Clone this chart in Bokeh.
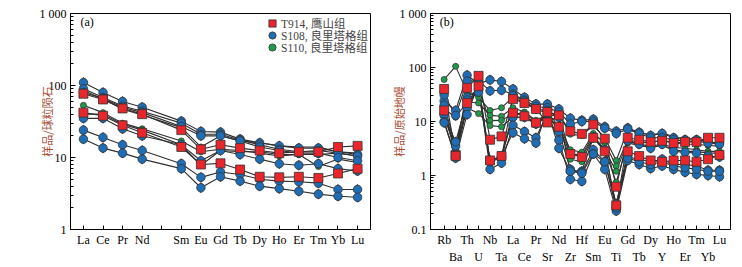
from bokeh.plotting import figure
from bokeh.layouts import row
from bokeh.models import Range1d, FixedTicker, LinearAxis, Legend, LegendItem, Label, ColumnDataSource
from bokeh.embed import file_html
from bokeh.resources import INLINE

# ---------------- data ----------------
ree_elements = ["La", "Ce", "Pr", "Nd", "", "Sm", "Eu", "Gd", "Tb", "Dy", "Ho", "Er", "Tm", "Yb", "Lu"]

ree_T914 = [
    [77, 64, 48, 40, 24, 13, 15, 13.5, 12.5, 11.5, 12, 12, 14, 14.5],
    [42, 38, 28, 22, 14, 8, 8.3, 6.8, 5.4, 5.3, 5.4, 5.2, 6, 7],
]
ree_S108 = [
    [110, 80, 60, 50, 32, 23, 22.5, 18, 16, 14.5, 13.5, 13.5, 12, 11],
    [90, 68, 52, 44, 30, 21, 21, 17.5, 15, 13, 12, 12.5, 11.5, 10.5],
    [80, 66, 50, 42, 27, 20, 20, 17, 14, 12.5, 11.5, 11.5, 10, 9],
    [35, 35, 25, 20, 15, 9, 12.5, 11, 9.5, 8.2, 7.8, 8.2, 7, 6.5],
    [24, 19, 15, 12.5, 8.2, 5.3, 6.3, 5.8, 5, 4.7, 4.6, 4.4, 3.6, 3.6],
    [18, 13.5, 11.5, 9.5, 7, 3.8, 5.4, 4.7, 4, 3.7, 3.4, 3.1, 2.9, 2.8],
]
ree_S110 = [
    [85, 65, 47, 39, 26, 14, 20, 17, 16, 14.5, 14, 14, 12, 11.5],
    [53, 42, 30, 25, 17, 12, 13, 12.5, 11.5, 10.5, 11, 11, 11.5, 10.5],
    [40, 40, 29, 24, 15, 7.8, 12.5, 12, 12, 11, 11, 7.5, 9.5, 8.5],
]

pm_elements = ["Rb", "Ba", "Th", "U", "Nb", "Ta", "La", "Ce", "Pr", "Sr", "Nd", "Zr", "Hf",
               "Sm", "Eu", "Ti", "Gd", "Tb", "Dy", "Y", "Ho", "Er", "Tm", "Yb", "Lu"]

pm_T914 = [
    [40, 2.4, 42, 70, 4.6, 5.3, 26, 22, 17, 9.6, 13, 6.6, 5.9, 8.8, 4.8, 0.62, 5.0, 4.6, 4.2, 4.4, 4.0, 4.2, 4.2, 5.0, 5.0],
    [16, 2.3, 22, 45, 1.9, 2.3, 14.5, 12.5, 9.5, 15, 8, 2.5, 2.2, 5.0, 2.8, 0.28, 2.8, 2.3, 1.9, 1.8, 1.9, 1.9, 1.8, 2.0, 2.4],
]
pm_S108 = [
    [24, 16, 72, 50, 59, 55, 40, 28, 21, 21, 17, 11.5, 10.5, 11, 8, 6.6, 7.6, 6.3, 5.5, 6.0, 5.0, 4.6, 4.6, 4.2, 4.0],
    [31, 13, 56, 57, 37, 38, 32, 25, 19, 18, 15, 9, 10, 10, 7.5, 6.0, 7.2, 6.0, 5.0, 5.0, 4.6, 4.3, 4.3, 4.0, 3.8],
    [20, 3.5, 28, 40, 1.8, 2.1, 30, 24, 17, 16, 12, 1.2, 1.2, 5.0, 3.0, 0.26, 4.4, 3.8, 3.2, 3.8, 2.8, 2.7, 2.6, 2.3, 2.2],
    [13, 4.2, 25, 35, 1.9, 2.2, 12, 12, 9, 14, 6.5, 1.3, 1.15, 3.0, 1.8, 0.30, 2.2, 2.0, 1.8, 2.0, 1.6, 1.6, 1.5, 1.25, 1.25],
    [10, 2.2, 18, 45, 1.3, 1.7, 8.5, 6.5, 5.0, 14, 4.5, 0.85, 0.78, 2.5, 1.3, 0.22, 1.9, 1.6, 1.35, 1.5, 1.3, 1.15, 1.05, 1.0, 0.95],
    [9.5, 2.1, 13.5, 50, 1.8, 2.3, 6.2, 4.8, 4.0, 16, 3.2, 1.2, 1.1, 2.5, 1.8, 0.25, 2.1, 1.8, 1.6, 1.8, 1.5, 1.4, 1.3, 1.2, 1.2],
]
pm_S110 = [
    [60, 105, 35, 28, 16, 18, 28, 22, 17, 14, 14, 5.8, 5.5, 8.5, 5.0, 1.9, 7.0, 6.3, 5.6, 6.2, 5.2, 4.8, 4.8, 4.2, 3.8],
    [17, 12, 23, 22, 13, 12.5, 18, 15, 10.5, 11, 8.5, 3.0, 2.7, 6.0, 4.0, 1.5, 4.5, 4.2, 4.0, 4.6, 4.0, 3.8, 3.8, 3.6, 3.5],
    [15, 3.0, 20, 40, 10.4, 10.5, 14, 14, 10, 13, 13, 2.5, 2.4, 5.5, 3.0, 1.2, 4.2, 3.8, 3.5, 3.8, 3.3, 3.2, 3.0, 2.8, 2.8],
    [12, 3.2, 18, 14, 8.4, 8, 12, 12, 9, 12, 8, 2.0, 1.8, 5.0, 3.0, 0.75, 4.0, 3.6, 3.3, 3.6, 3.0, 2.8, 2.8, 2.6, 2.6],
]

legend_labels = ["T914, 鹰山组", "S108, 良里塔格组", "S110, 良里塔格组"]

# ---------------- style ----------------
RED = "#e8262b"
BLUE = "#1f6db5"
GREEN = "#1e9a48"
LINE = "#2e2e2e"
EDGE = "#333333"
SERIF = "Liberation Serif"
CJK = "Noto Sans CJK SC"
YLAB = "#a84c34"


def make_panel(elements, t914, s108, s110, ymin, ylabel, ylabel_standoff, letter, letter_xy,
               xstart, xend, bl, br, two_rows, legend):
    positions = [i for i, e in enumerate(elements) if e]
    p = figure(width=371, height=267, y_axis_type="log",
               x_range=Range1d(xstart, xend), y_range=Range1d(ymin, 1000),
               output_backend="svg", toolbar_location=None,
               min_border_left=bl, min_border_right=br, min_border_top=13, min_border_bottom=38)
    p.xgrid.visible = False
    p.ygrid.visible = False
    p.outline_line_color = "black"
    p.outline_line_width = 1
    p.background_fill_color = "white"
    p.border_fill_color = "white"

    groups = [(s110, "green"), (s108, "blue"), (t914, "red")]
    for series, _ in groups:
        for s in series:
            p.line(positions, s, line_color=LINE, line_width=1.1)

    renders = {}
    for series, kind in groups:
        xs, ys = [], []
        for s in series:
            xs += positions
            ys += s
        src = ColumnDataSource(dict(x=xs, y=ys))
        if kind == "red":
            r = p.scatter("x", "y", source=src, marker="square", size=9,
                          fill_color=RED, line_color=EDGE, line_width=0.8)
            renders[kind] = [r]
        elif kind == "blue":
            r1 = p.scatter("x", "y", source=src, marker="diamond", size=10,
                           fill_color=BLUE, line_color=EDGE, line_width=0.8)
            r2 = p.scatter("x", "y", source=src, marker="circle", size=8.5,
                           fill_color=BLUE, line_color=EDGE, line_width=0.8)
            renders[kind] = [r1, r2]
        else:
            r = p.scatter("x", "y", source=src, marker="circle", size=6,
                          fill_color=GREEN, line_color=EDGE, line_width=0.8)
            renders[kind] = [r]

    # y axis
    majors = [t for t in [0.1, 1, 10, 100, 1000] if t >= ymin]
    minors = [m * t for t in majors[:-1] for m in range(2, 10)]
    p.yaxis.ticker = FixedTicker(ticks=majors, minor_ticks=minors)
    p.yaxis.major_label_overrides = {0.1: "0.1", 1: "1", 10: "10", 100: "100", 1000: "1 000"}
    p.yaxis.major_tick_in = 5
    p.yaxis.major_tick_out = 0
    p.yaxis.minor_tick_in = 3
    p.yaxis.minor_tick_out = 0
    p.yaxis.major_label_text_font = SERIF
    p.yaxis.major_label_text_font_size = "12px"
    p.yaxis.major_label_text_color = "black"
    p.yaxis.major_label_standoff = 4
    p.yaxis.axis_line_color = "black"
    p.yaxis.axis_label = ylabel
    p.yaxis.axis_label_text_font = CJK
    p.yaxis.axis_label_text_font_size = "11px"
    p.yaxis.axis_label_text_font_style = "normal"
    p.yaxis.axis_label_text_color = YLAB
    p.yaxis.axis_label_standoff = ylabel_standoff

    # x axis
    xa = p.xaxis[0]
    xa.ticker = FixedTicker(ticks=list(range(len(elements))))
    if two_rows:
        xa.major_label_overrides = {i: (e if i % 2 == 0 else "") for i, e in enumerate(elements)}
    else:
        xa.major_label_overrides = {i: e for i, e in enumerate(elements)}
    xa.major_tick_in = 4
    xa.major_tick_out = 0
    xa.minor_tick_line_color = None
    xa.major_label_text_font = SERIF
    xa.major_label_text_font_size = "12px"
    xa.major_label_text_color = "black"
    xa.major_label_standoff = 3
    xa.axis_line_color = "black"

    if two_rows:
        odd = [i for i in range(len(elements)) if i % 2 == 1]
        ax2 = LinearAxis(ticker=FixedTicker(ticks=odd),
                         major_label_overrides={i: elements[i] for i in odd},
                         axis_line_color=None, major_tick_line_color=None,
                         minor_tick_line_color=None, major_tick_in=0, major_tick_out=0,
                         major_label_standoff=0, major_label_text_font=SERIF,
                         major_label_text_font_size="12px", major_label_text_color="black")
        p.add_layout(ax2, "below")

    p.add_layout(Label(x=letter_xy[0], y=letter_xy[1], text=letter, text_font=SERIF,
                       text_font_size="12px", text_baseline="middle", text_color="black"))

    if legend:
        kinds = ["red", "blue", "green"]
        for k, (kind, lab) in enumerate(zip(kinds, legend_labels)):
            lg = Legend(items=[LegendItem(label=lab, renderers=renders[kind])],
                        location=(193, 197 - 12 * k), border_line_color=None,
                        background_fill_alpha=0, padding=0, margin=0, spacing=0,
                        glyph_width=18, glyph_height=18, label_height=12, label_standoff=0,
                        label_text_font=SERIF + ", " + CJK, label_text_font_size="11.5px",
                        label_text_baseline="middle")
            p.add_layout(lg)
    return p


pa = make_panel(ree_elements, ree_T914, ree_S108, ree_S110, 1, "样品/球粒陨石", -18, "(a)",
                (-0.15, 757), -0.66, 14.66, 70, 1, False, True)
pb = make_panel(pm_elements, pm_T914, pm_S108, pm_S110, 0.1, "样品/原始地幔", -10, "(b)",
                (-0.38, 690), -1.19, 24.96, 59, 12, True, False)

layout = row(pa, pb)
open("out.html", "w").write(file_html(layout, INLINE))
